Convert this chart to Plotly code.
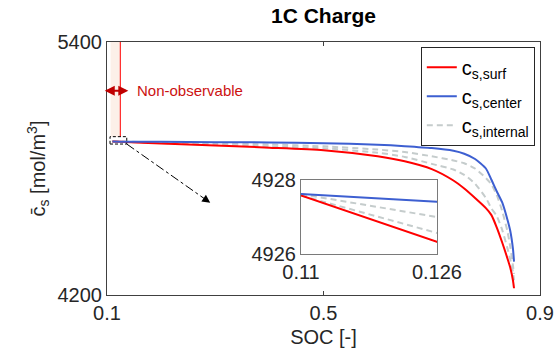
import plotly.graph_objects as go

# ---------------- data ----------------
soc = [0.11, 0.126, 0.2, 0.3, 0.4, 0.5, 0.6, 0.65, 0.7, 0.74, 0.76, 0.78,
       0.80, 0.81, 0.82, 0.83, 0.84, 0.845, 0.85, 0.852]
cs_surf = [4927.58, 4926.33, 4918, 4909, 4899, 4887, 4858, 4834, 4797, 4743,
           4705, 4660, 4612, 4580, 4521, 4450, 4372, 4330, 4270, 4232]
cs_center = [4927.62, 4927.41, 4926.3, 4925, 4923.5, 4920, 4913, 4906, 4897,
             4884, 4870, 4845, 4800, 4748, 4692, 4640, 4556, 4505, 4420, 4358]
cs_internal_1 = [4927.62, 4927.0, 4924.5, 4920, 4914, 4905, 4890, 4878, 4858,
                 4838, 4825, 4800, 4755, 4725, 4675, 4600, 4500, 4430, 4340, 4300]
cs_internal_2 = [4927.58, 4926.57, 4920.5, 4913, 4905, 4896, 4875, 4855, 4822,
                 4795, 4770, 4728, 4660, 4612, 4575, 4510, 4420, 4370, 4310, 4270]

x_ticks = [0.1, 0.5, 0.9]
x_ticktext = ["0.1", "0.5", "0.9"]
y_ticks = [4200, 5400]
y_ticktext = ["4200", "5400"]
inset_x_ticks = [0.11, 0.126]
inset_x_ticktext = ["0.11", "0.126"]
inset_y_ticks = [4926, 4928]
inset_y_ticktext = ["4926", "4928"]

RED = "#ff0000"
BLUE = "#3d5fd1"
GRAY = "#c5cccc"
FONT = "Liberation Sans, Arial, sans-serif"
TXT = "#262626"

W, H = 555, 358

fig = go.Figure()

series = [
    ("c<sub>s,surf</sub>", cs_surf, dict(color=RED, width=2), True),
    ("c<sub>s,center</sub>", cs_center, dict(color=BLUE, width=2), True),
    ("c<sub>s,internal</sub>", cs_internal_1, dict(color=GRAY, width=2, dash="6px,4px"), True),
    ("c<sub>s,internal</sub>", cs_internal_2, dict(color=GRAY, width=2, dash="6px,4px"), False),
]
order = [2, 3, 0, 1]
for i in order:
    name, vals, line, show = series[i]
    fig.add_trace(go.Scatter(x=soc, y=vals, mode="lines", name=name,
                             line=dict(shape="spline", smoothing=0.6, **line),
                             showlegend=show, legendrank=i + 1,
                             xaxis="x", yaxis="y"))
for i in order:
    name, vals, line, show = series[i]
    fig.add_trace(go.Scatter(x=soc, y=vals, mode="lines", name=name, line=line,
                             showlegend=False, xaxis="x2", yaxis="y2"))

axis_common = dict(showgrid=False, zeroline=False, showline=True,
                   linecolor="#404040", linewidth=1, mirror="ticks",
                   ticks="inside", ticklen=4, tickcolor="#404040",
                   automargin=False,
                   tickfont=dict(family=FONT, size=20, color=TXT))

fig.update_layout(
    width=W, height=H,
    margin=dict(l=107, r=15, t=42, b=63, autoexpand=False),
    paper_bgcolor="white", plot_bgcolor="white",
    font=dict(family=FONT, color=TXT),
    title=dict(text="<b>1C Charge</b>", x=0.5, xref="paper", xanchor="center",
               y=1 - 16 / H, yanchor="middle", automargin=False,
               font=dict(family=FONT, size=21, color="black")),
    xaxis=dict(domain=[0, 1], range=[0.1, 0.9], tickvals=x_ticks,
               ticktext=x_ticktext,
               title=dict(text="SOC [-]", standoff=6,
                          font=dict(family=FONT, size=20, color=TXT)),
               **axis_common),
    yaxis=dict(domain=[0, 1], range=[4200, 5400], tickvals=y_ticks,
               ticktext=y_ticktext,
               title=dict(text="c\u0304<sub>s</sub> [mol/m<sup>3</sup>]", standoff=6,
                          font=dict(family=FONT, size=20, color=TXT)),
               **axis_common),
    xaxis2=dict(domain=[0.448, 0.762], anchor="y2", range=[0.11, 0.126],
                tickvals=inset_x_ticks, ticktext=inset_x_ticktext,
                **{**axis_common, "linecolor": "#7a7a7a", "ticklen": 0}),
    yaxis2=dict(domain=[0.162, 0.4545], anchor="x2", range=[4926, 4928],
                tickvals=inset_y_ticks, ticktext=inset_y_ticktext,
                **{**axis_common, "linecolor": "#7a7a7a", "ticklen": 0}),
    legend=dict(x=0.988, y=0.981, xanchor="right", yanchor="top",
                bordercolor="#262626", borderwidth=1, bgcolor="white",
                font=dict(family=FONT, size=20, color="black"),
                tracegroupgap=0, itemwidth=30),
    showlegend=True,
)

# non-observable region
fig.add_shape(type="rect", xref="x", yref="y", x0=0.1066, x1=0.1246,
              y0=4950, y1=5400, fillcolor="#fcf0e8", line=dict(width=0),
              layer="below")
fig.add_shape(type="line", xref="x", yref="y", x0=0.1246, x1=0.1246,
              y0=4950, y1=5400, line=dict(color=RED, width=1))
# zoom rectangle
fig.add_shape(type="rect", xref="x", yref="y", x0=0.1056, x1=0.1365,
              y0=4916, y1=4951, line=dict(color="black", width=1, dash="3px,2px"))
# dash-dot pointer
fig.add_shape(type="line", xref="x", yref="y", x0=0.1365, y0=4916,
              x1=0.2860, y1=4646, line=dict(color="black", width=1, dash="dashdot"))
fig.add_annotation(x=0.2907, y=4638, ax=0.2785, ay=4659.6, xref="x", yref="y",
                   axref="x", ayref="y", text="", showarrow=True,
                   arrowhead=2, arrowsize=1.6, arrowwidth=1, arrowcolor="black")
# double arrow + label
fig.add_annotation(x=0.1394, y=5169, ax=0.0931, ay=5169, xref="x", yref="y",
                   axref="x", ayref="y", text="", showarrow=True,
                   arrowhead=2, arrowside="end+start", arrowsize=1,
                   arrowwidth=2, arrowcolor="#c00000")
fig.add_annotation(x=0.1519, y=5169, xref="x", yref="y", text="Non-observable",
                   showarrow=False, xanchor="left", yanchor="middle",
                   font=dict(family=FONT, size=15, color="#cc1111"))

fig.write_html("out.html",
               config={"displayModeBar": False},
               post_script="document.body.style.margin='0';"
                           "document.body.style.overflow='hidden';")
